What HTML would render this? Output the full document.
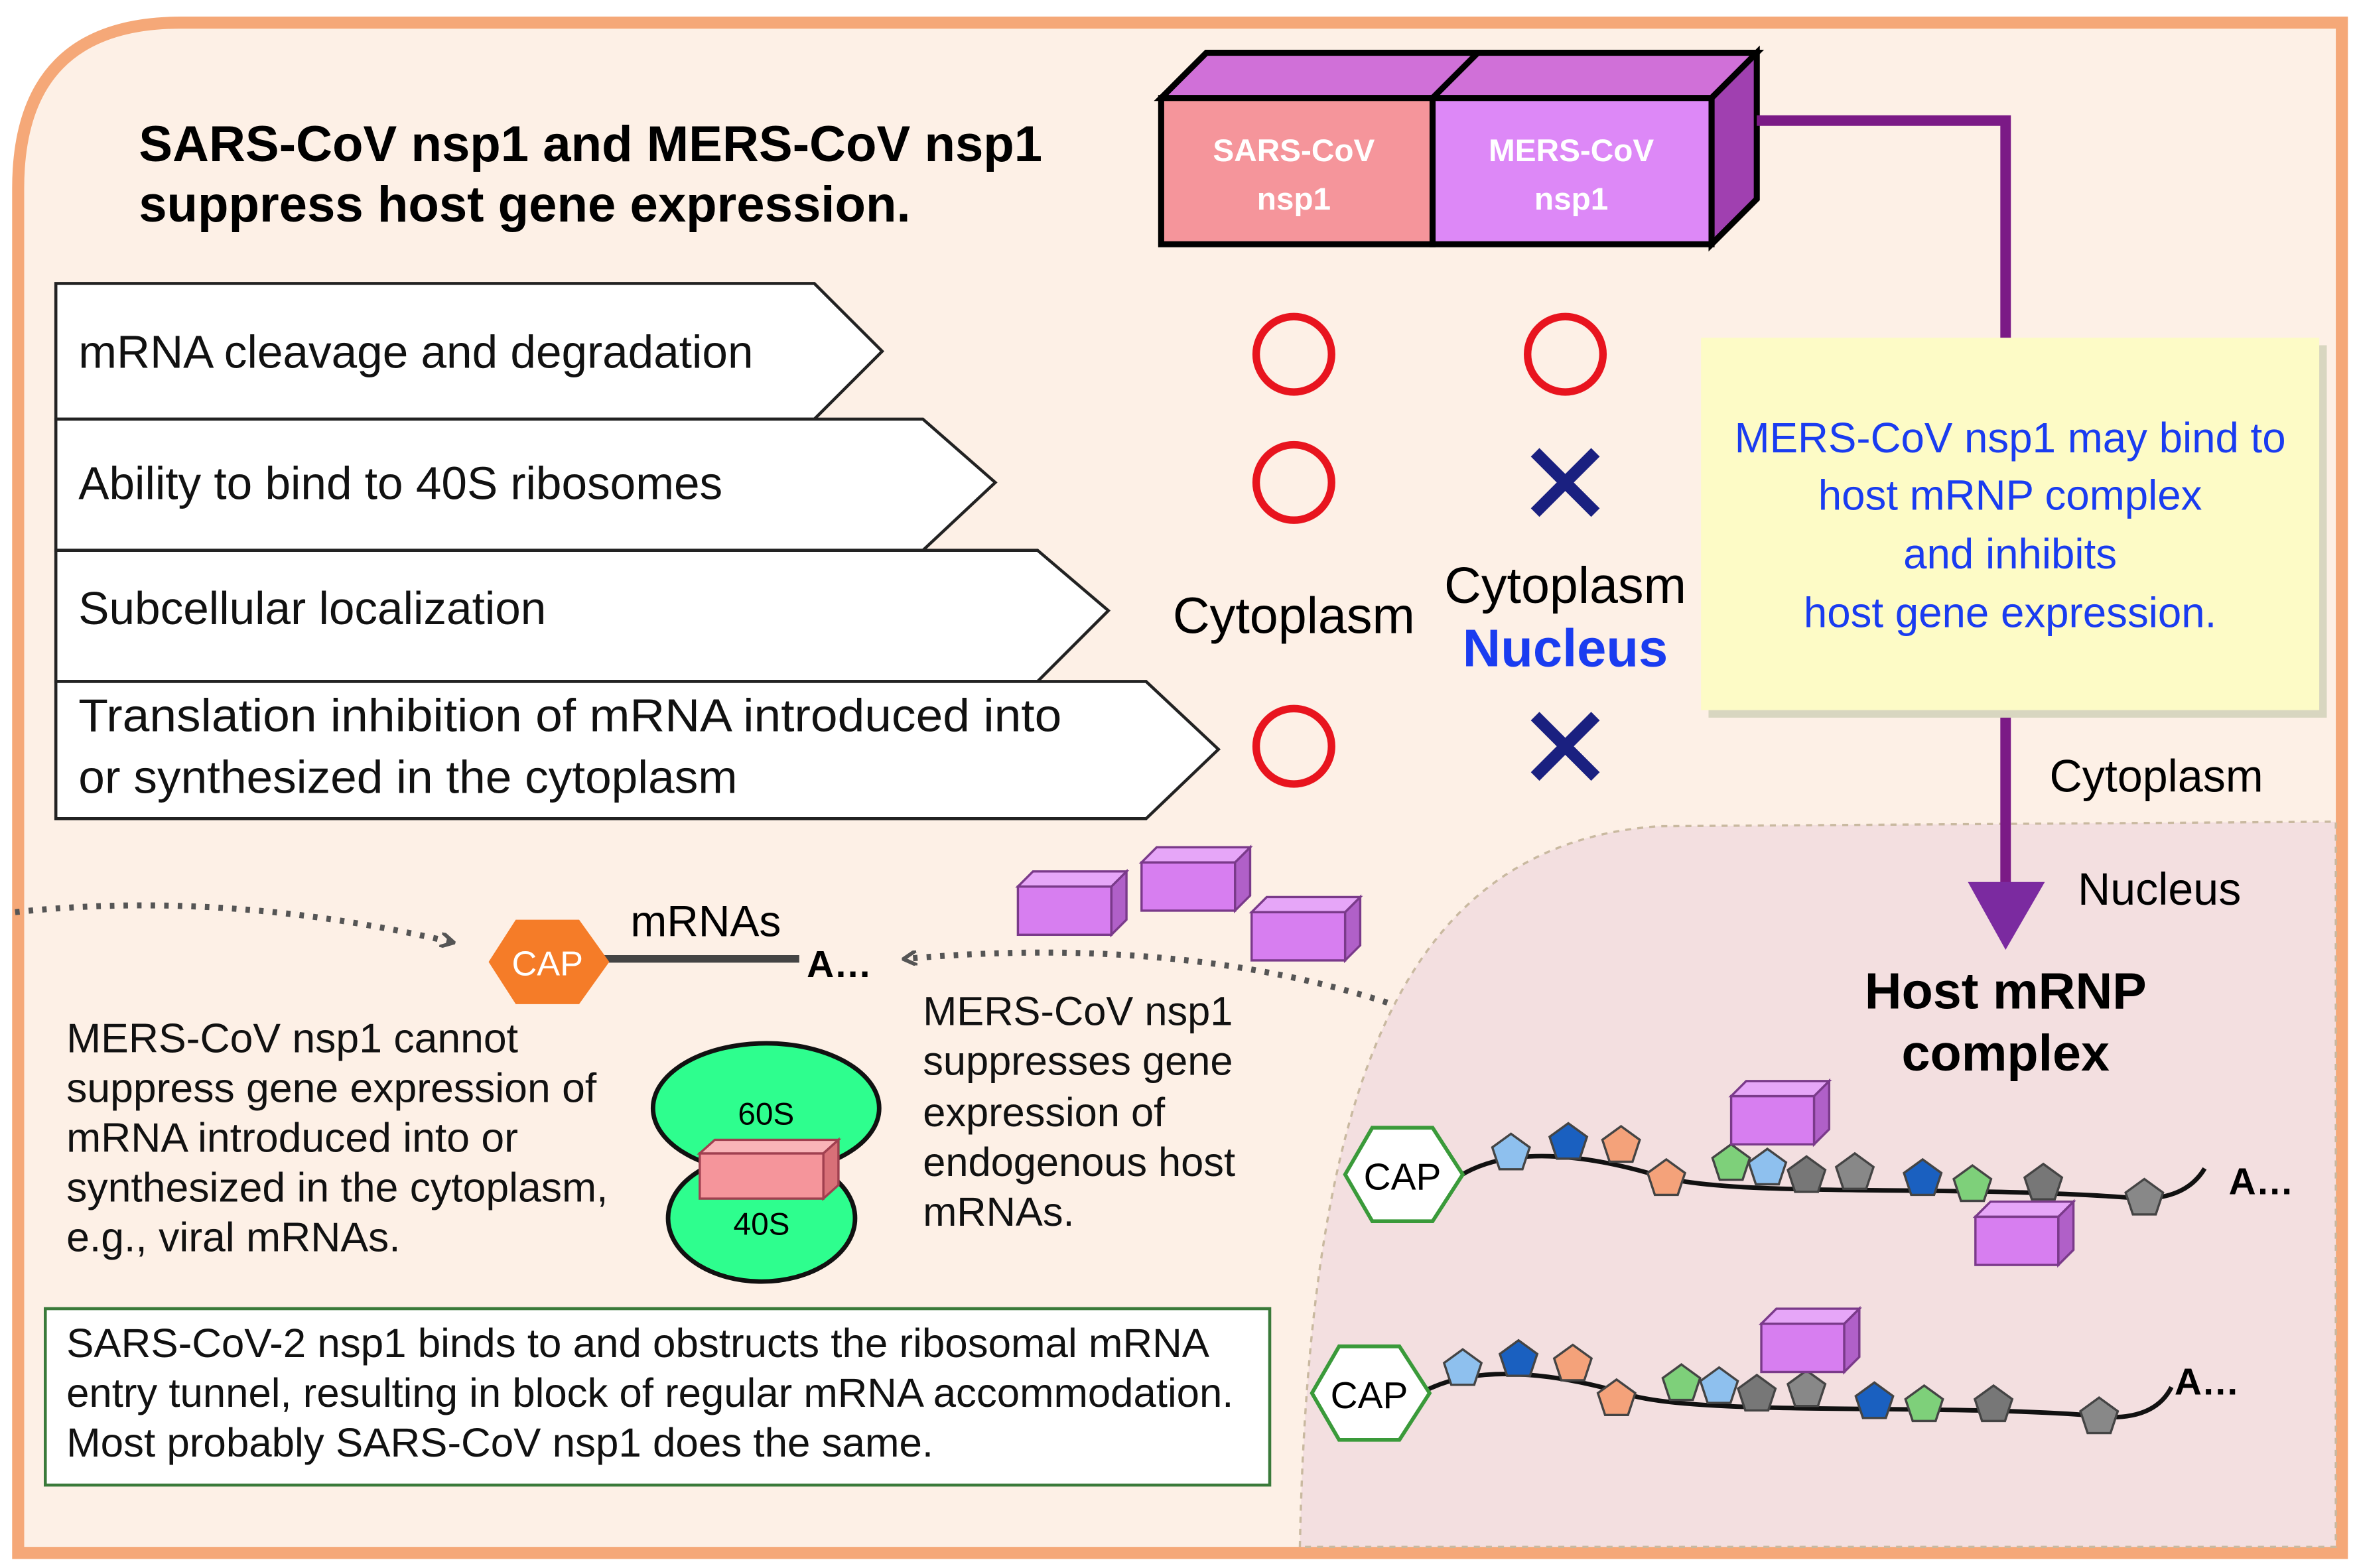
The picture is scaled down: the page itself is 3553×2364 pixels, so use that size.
<!DOCTYPE html>
<html><head><meta charset="utf-8"><style>
html,body{margin:0;padding:0;background:#fff}
svg{display:block}
text{font-family:"Liberation Sans",sans-serif}
</style></head><body>
<svg width="3553" height="2364" viewBox="0 0 1563 1040" xmlns="http://www.w3.org/2000/svg">
<defs>
<marker id="ah" markerWidth="10" markerHeight="10" refX="8" refY="5" orient="auto" markerUnits="userSpaceOnUse"><path d="M0,0 L9,5 L0,10" fill="none" stroke="#555" stroke-width="2.5"/></marker>
<g id="pent"><polygon points="0,-13 12.4,-4 7.6,10.5 -7.6,10.5 -12.4,-4"/></g>
</defs>
<rect width="1563" height="1040" fill="#fff"/>
<path d="M120,15 L1553,15 L1553,1030 L12,1030 L12,125 Q12,15 120,15 Z" fill="#fdf0e6" stroke="#f5a878" stroke-width="8"/>
<path d="M862,1026 C868,720 930,560 1100,548 L1549,545 L1549,1026 Z" fill="#f3dfe0" stroke="#c9b9a0" stroke-width="1.5" stroke-dasharray="4,4"/>
<text x="92" y="107" font-size="33.5" font-weight="bold">SARS-CoV nsp1 and MERS-CoV nsp1</text>
<text x="92" y="147" font-size="33.5" font-weight="bold">suppress host gene expression.</text>
<!-- 3D box -->
<polygon points="770,65 800,35 1165,35 1135,65" fill="#d070d8" stroke="#000" stroke-width="4"/>
<polygon points="1135,65 1165,35 1165,132 1135,162" fill="#a040b0" stroke="#000" stroke-width="4"/>
<line x1="950" y1="65" x2="980" y2="35" stroke="#000" stroke-width="4"/>
<rect x="770" y="65" width="180" height="97" fill="#f5959b" stroke="#000" stroke-width="4"/>
<rect x="950" y="65" width="185" height="97" fill="#dd88f7" stroke="#000" stroke-width="4"/>
<text x="858" y="107" font-size="21" font-weight="bold" fill="#fff" text-anchor="middle">SARS-CoV</text>
<text x="858" y="139" font-size="21" font-weight="bold" fill="#fff" text-anchor="middle">nsp1</text>
<text x="1042" y="107" font-size="21" font-weight="bold" fill="#fff" text-anchor="middle">MERS-CoV</text>
<text x="1042" y="139" font-size="21" font-weight="bold" fill="#fff" text-anchor="middle">nsp1</text>
<polyline points="1165,80 1330,80 1330,590" fill="none" stroke="#7b1a86" stroke-width="7"/>
<polygon points="1305,585 1356,585 1330,630" fill="#7b2aa0"/>
<rect x="1133" y="229" width="410" height="247" fill="#d8d6c0"/>
<rect x="1128" y="224" width="410" height="247" fill="#fdfbc6"/>
<g font-size="28" fill="#1a3cf0" text-anchor="middle">
<text x="1333" y="300">MERS-CoV nsp1 may bind to</text>
<text x="1333" y="338">host mRNP complex</text>
<text x="1333" y="377">and inhibits</text>
<text x="1333" y="416">host gene expression.</text>
</g>
<!-- arrows -->
<g fill="#fff" stroke="#222" stroke-width="2">
<polygon points="37,188 540,188 585,233 540,278 37,278"/>
<polygon points="37,278 612,278 660,320 612,365 37,365"/>
<polygon points="37,365 688,365 735,405 688,452 37,452"/>
<polygon points="37,452 760,452 808,497 760,543 37,543"/>
</g>
<g font-size="30.5" fill="#111">
<text x="52" y="244">mRNA cleavage and degradation</text>
<text x="52" y="331">Ability to bind to 40S ribosomes</text>
<text x="52" y="414">Subcellular localization</text>
<text x="52" y="485" textLength="652" lengthAdjust="spacingAndGlyphs">Translation inhibition of mRNA introduced into</text>
<text x="52" y="526" textLength="437" lengthAdjust="spacingAndGlyphs">or synthesized  in the  cytoplasm</text>
</g>
<g fill="none" stroke="#e8141e" stroke-width="5">
<circle cx="858" cy="235" r="25"/><circle cx="1038" cy="235" r="25"/>
<circle cx="858" cy="320" r="25"/><circle cx="858" cy="495" r="25"/>
</g>
<g stroke="#1a2080" stroke-width="8">
<line x1="1018" y1="300" x2="1058" y2="340"/><line x1="1058" y1="300" x2="1018" y2="340"/>
<line x1="1018" y1="475" x2="1058" y2="515"/><line x1="1058" y1="475" x2="1018" y2="515"/>
</g>
<text x="858" y="420" font-size="34" text-anchor="middle">Cytoplasm</text>
<text x="1038" y="400" font-size="34" text-anchor="middle">Cytoplasm</text>
<text x="1038" y="442" font-size="35" font-weight="bold" fill="#1a3cf0" text-anchor="middle">Nucleus</text>
<text x="1430" y="525" font-size="30" text-anchor="middle">Cytoplasm</text>
<text x="1432" y="600" font-size="30" text-anchor="middle">Nucleus</text>
<text x="1330" y="669" font-size="34" font-weight="bold" text-anchor="middle">Host mRNP</text>
<text x="1330" y="710" font-size="34" font-weight="bold" text-anchor="middle">complex</text>
<!-- left mRNA -->
<path d="M10,605 Q150,590 300,625" fill="none" stroke="#555" stroke-width="4" stroke-dasharray="3,6" marker-end="url(#ah)"/>
<path d="M920,665 Q780,620 600,636" fill="none" stroke="#555" stroke-width="4" stroke-dasharray="3,6" marker-end="url(#ah)"/>
<line x1="400" y1="636" x2="530" y2="636" stroke="#444" stroke-width="5"/>
<polygon points="342,610 384,610 404,638 384,666 342,666 324,638" fill="#f57c28"/>
<text x="363" y="647" font-size="23" fill="#fff" text-anchor="middle">CAP</text>
<text x="468" y="621" font-size="29" text-anchor="middle">mRNAs</text>
<text x="535" y="648" font-size="25" font-weight="bold">A…</text>
<g fill="#d77ef0" stroke="#7a3a8a" stroke-width="1.5">
<rect x="675" y="588" width="62" height="32"/><polygon points="737,588 747,578 747,610 737,620" fill="#b060c8"/><polygon points="675,588 685,578 747,578 737,588" fill="#e6a6f8"/>
<rect x="757" y="572" width="62" height="32"/><polygon points="819,572 829,562 829,594 819,604" fill="#b060c8"/><polygon points="757,572 767,562 829,562 819,572" fill="#e6a6f8"/>
<rect x="830" y="605" width="62" height="32"/><polygon points="892,605 902,595 902,627 892,637" fill="#b060c8"/><polygon points="830,605 840,595 902,595 892,605" fill="#e6a6f8"/>
</g>
<g font-size="27.5" fill="#111">
<text x="44" y="698">MERS-CoV nsp1 cannot</text>
<text x="44" y="731">suppress gene expression of</text>
<text x="44" y="764">mRNA introduced into or</text>
<text x="44" y="797">synthesized in the cytoplasm,</text>
<text x="44" y="830">e.g., viral mRNAs.</text>
</g>
<g font-size="27" fill="#111">
<text x="612" y="680">MERS-CoV nsp1</text>
<text x="612" y="713">suppresses gene</text>
<text x="612" y="747">expression of</text>
<text x="612" y="780">endogenous  host</text>
<text x="612" y="813">mRNAs.</text>
</g>
<ellipse cx="508" cy="735" rx="75" ry="43" fill="#2efe8e" stroke="#111" stroke-width="3"/>
<ellipse cx="505" cy="808" rx="62" ry="42" fill="#2efe8e" stroke="#111" stroke-width="3"/>
<text x="508" y="746" font-size="21" text-anchor="middle">60S</text>
<text x="505" y="819" font-size="21" text-anchor="middle">40S</text>
<rect x="464" y="765" width="82" height="30" fill="#f5959b" stroke="#a04050" stroke-width="1.5"/>
<polygon points="464,765 474,756 556,756 546,765" fill="#f9b4b8" stroke="#a04050" stroke-width="1.5"/>
<polygon points="546,765 556,756 556,786 546,795" fill="#d87078" stroke="#a04050" stroke-width="1.5"/>
<rect x="30" y="868" width="812" height="117" fill="#fff" stroke="#3a7a3a" stroke-width="2"/>
<g font-size="27" fill="#111">
<text x="44" y="900" textLength="758" lengthAdjust="spacingAndGlyphs">SARS-CoV-2 nsp1 binds to and obstructs the ribosomal mRNA</text>
<text x="44" y="933" textLength="774" lengthAdjust="spacingAndGlyphs">entry tunnel, resulting in block of regular mRNA accommodation.</text>
<text x="44" y="966" textLength="575" lengthAdjust="spacingAndGlyphs">Most probably SARS-CoV nsp1 does the same.</text>
</g>
<!-- mRNP chains -->
<path d="M968,780 C1000,760 1050,765 1100,780 S1300,785 1420,795 Q1450,795 1462,775" fill="none" stroke="#111" stroke-width="3"/>
<polygon points="910,748 950,748 970,779 950,810 910,810 892,779" fill="#fff" stroke="#3a9a3a" stroke-width="2.5"/>
<text x="930" y="789" font-size="25" text-anchor="middle">CAP</text>
<text x="1478" y="792" font-size="25" font-weight="bold">A…</text>
<g stroke="#444" stroke-width="1.5">
<use href="#pent" x="1002" y="765" fill="#8ec0ee"/><use href="#pent" x="1040" y="758" fill="#1a60c0"/>
<use href="#pent" x="1075" y="760" fill="#f4a27a"/><use href="#pent" x="1105" y="782" fill="#f4a27a"/>
<use href="#pent" x="1148" y="772" fill="#7ed07a"/><use href="#pent" x="1172" y="775" fill="#8ec0ee"/>
<use href="#pent" x="1198" y="780" fill="#777"/><use href="#pent" x="1230" y="778" fill="#888"/>
<use href="#pent" x="1275" y="782" fill="#1a60c0"/><use href="#pent" x="1308" y="786" fill="#7ed07a"/>
<use href="#pent" x="1355" y="785" fill="#777"/><use href="#pent" x="1422" y="795" fill="#888"/>
</g>
<path d="M946,922 C980,905 1030,910 1080,925 S1300,930 1400,940 Q1430,940 1440,920" fill="none" stroke="#111" stroke-width="3"/>
<polygon points="888,893 928,893 948,924 928,955 888,955 870,924" fill="#fff" stroke="#3a9a3a" stroke-width="2.5"/>
<text x="908" y="934" font-size="25" text-anchor="middle">CAP</text>
<text x="1442" y="925" font-size="25" font-weight="bold">A…</text>
<g stroke="#444" stroke-width="1.5">
<use href="#pent" x="970" y="908" fill="#8ec0ee"/><use href="#pent" x="1007" y="902" fill="#1a60c0"/>
<use href="#pent" x="1043" y="905" fill="#f4a27a"/><use href="#pent" x="1072" y="928" fill="#f4a27a"/>
<use href="#pent" x="1115" y="918" fill="#7ed07a"/><use href="#pent" x="1140" y="920" fill="#8ec0ee"/>
<use href="#pent" x="1165" y="925" fill="#777"/><use href="#pent" x="1198" y="922" fill="#888"/>
<use href="#pent" x="1243" y="930" fill="#1a60c0"/><use href="#pent" x="1276" y="932" fill="#7ed07a"/>
<use href="#pent" x="1322" y="932" fill="#777"/><use href="#pent" x="1392" y="940" fill="#888"/>
</g>
<g fill="#d77ef0" stroke="#7a3a8a" stroke-width="1.5">
<rect x="1148" y="727" width="55" height="32"/><polygon points="1203,727 1213,717 1213,749 1203,759" fill="#b060c8"/><polygon points="1148,727 1158,717 1213,717 1203,727" fill="#e6a6f8"/>
<rect x="1310" y="807" width="55" height="32"/><polygon points="1365,807 1375,797 1375,829 1365,839" fill="#b060c8"/><polygon points="1310,807 1320,797 1375,797 1365,807" fill="#e6a6f8"/>
<rect x="1168" y="878" width="55" height="32"/><polygon points="1223,878 1233,868 1233,900 1223,910" fill="#b060c8"/><polygon points="1168,878 1178,868 1233,868 1223,878" fill="#e6a6f8"/>
</g>
</svg>
</body></html>
